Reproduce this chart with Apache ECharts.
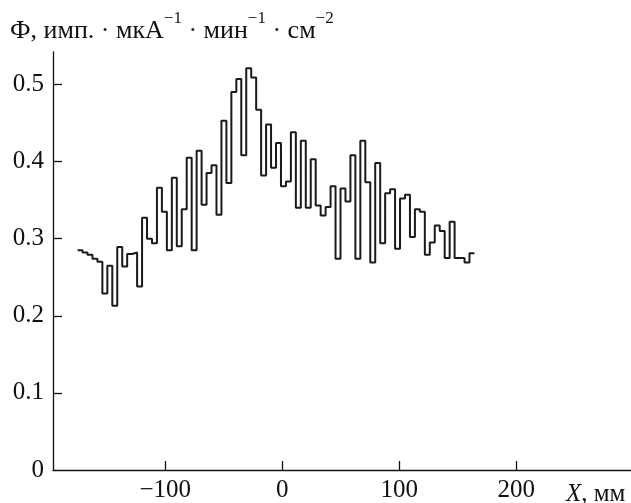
<!DOCTYPE html>
<html>
<head>
<meta charset="utf-8">
<script src="https://cdn.jsdelivr.net/npm/echarts@6/dist/echarts.min.js"></script>
<style>
html, body { margin: 0; padding: 0; background: #fff; }
#chart { width: 631px; height: 503px; }
</style>
</head>
<body>
<div id="chart"></div>
<script>
var chart = echarts.init(document.getElementById("chart"));

// histogram bins along X (mm)
var binStart = -175.0;
var binWidth = 4.24;
var flux = [
  0.285, 0.282, 0.279, 0.274, 0.270, 0.229, 0.265, 0.213, 0.289, 0.264,
  0.280, 0.282, 0.238, 0.327, 0.300, 0.294, 0.366, 0.335, 0.285, 0.379,
  0.290, 0.338, 0.405, 0.285, 0.414, 0.344, 0.385, 0.395, 0.331, 0.453,
  0.372, 0.490, 0.507, 0.408, 0.521, 0.509, 0.467, 0.382, 0.448, 0.392,
  0.424, 0.368, 0.374, 0.438, 0.340, 0.427, 0.340, 0.403, 0.343, 0.330,
  0.341, 0.368, 0.274, 0.365, 0.348, 0.408, 0.274, 0.427, 0.373, 0.269,
  0.398, 0.294, 0.359, 0.364, 0.287, 0.352, 0.357, 0.302, 0.338, 0.335,
  0.279, 0.295, 0.317, 0.310, 0.275, 0.322, 0.275, 0.275, 0.269, 0.281
];
var xTicks = [-100, 0, 100, 200];
var yTicks = [0, 0.1, 0.2, 0.3, 0.4, 0.5];

var steps = [];
for (var i = 0; i < flux.length; i++) {
  steps.push([binStart + i * binWidth, flux[i]]);
}
steps.push([binStart + flux.length * binWidth, flux[flux.length - 1]]);

var serif = "Liberation Serif";

chart.setOption({
  animation: false,
  grid: {
    left: 53,
    right: 0,
    top: 52,
    bottom: 29.5,
  },
  xAxis: {
    type: "value",
    min: -196,
    max: 298,
    axisLine: { onZero: false, lineStyle: { color: "#111", width: 1.3 } },
    axisTick: {
      inside: true,
      length: 9,
      customValues: xTicks,
      lineStyle: { color: "#111", width: 1.3 },
    },
    axisLabel: {
      customValues: xTicks,
      margin: 8,
      fontFamily: serif,
      fontSize: 25,
      color: "#111",
      formatter: function (v) {
        return v < 0 ? "\u2212" + Math.abs(v) : String(v);
      },
    },
    splitLine: { show: false },
  },
  yAxis: {
    type: "value",
    min: 0,
    max: 0.542,
    axisLine: { show: true, onZero: false, lineStyle: { color: "#111", width: 1.3 } },
    axisTick: {
      show: true,
      inside: true,
      length: 9,
      customValues: [0.1, 0.2, 0.3, 0.4, 0.5],
      lineStyle: { color: "#111", width: 1.3 },
    },
    axisLabel: {
      customValues: yTicks,
      margin: 9,
      fontFamily: serif,
      fontSize: 25,
      color: "#111",
    },
    splitLine: { show: false },
  },
  graphic: [
    {
      type: "text",
      x: 10,
      y: 10.5,
      style: {
        text: "{m|\u0424, имп. \u00b7 мкА}{s|\u22121}{m| \u00b7 мин}{s|\u22121}{m| \u00b7 см}{s|\u22122}",
        verticalAlign: "top",
        fill: "#111",
        rich: {
          m: { fontFamily: serif, fontSize: 26, lineHeight: 33.5, verticalAlign: "bottom", color: "#111" },
          s: { fontFamily: serif, fontSize: 17, lineHeight: 17, verticalAlign: "top", color: "#111" },
        },
      },
    },
    {
      type: "text",
      x: 566,
      y: 482,
      style: {
        text: "{i|X}{m|, мм}",
        verticalAlign: "top",
        fill: "#111",
        rich: {
          i: { fontFamily: serif, fontSize: 25, fontStyle: "italic", color: "#111" },
          m: { fontFamily: serif, fontSize: 25, color: "#111" },
        },
      },
    },
  ],
  series: [
    {
      name: "flux",
      type: "line",
      step: "end",
      symbol: "none",
      data: steps,
      lineStyle: { color: "#1a1a1a", width: 2 },
    },
  ],
});
</script>
</body>
</html>
